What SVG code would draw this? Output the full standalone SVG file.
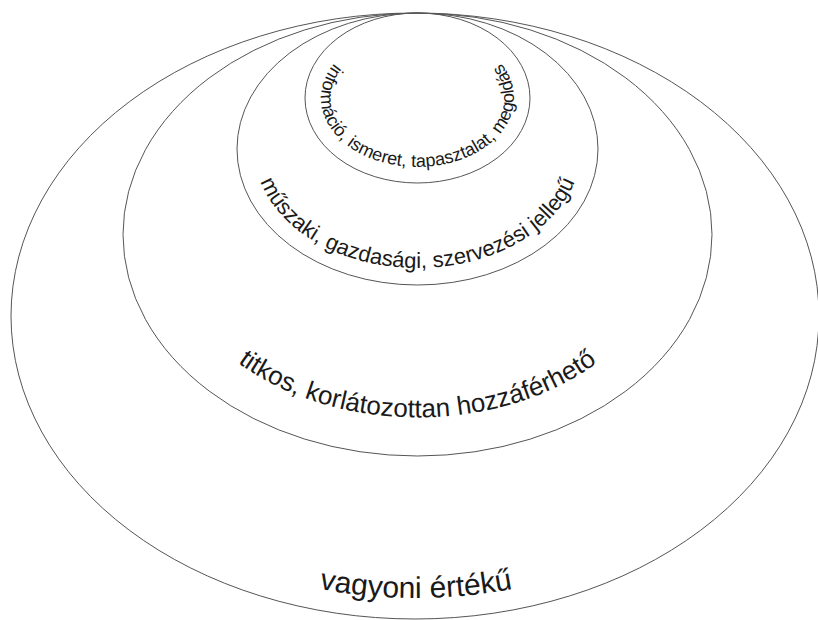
<svg xmlns="http://www.w3.org/2000/svg" xmlns:xlink="http://www.w3.org/1999/xlink" width="818" height="620" viewBox="0 0 818 620">
<style>
.ring{fill:none;stroke:#555;stroke-width:1}
.lbl{font-family:"Liberation Sans",Arial,sans-serif;fill:#1a1a1a}
</style>
<defs>
<path id="p1" d="M417.5,29 A96.5,69 0 0 0 417.5,167 A96.5,69 0 0 0 417.5,29"/>
<path id="p2" d="M417.5,30 A163.5,119 0 0 0 417.5,268 A163.5,119 0 0 0 417.5,30"/>
<path id="p3" d="M417.5,51.4 A252,183 0 0 0 417.5,417.4 A252,183 0 0 0 417.5,51.4"/>
<path id="p4" d="M416,34 A382,282 0 0 0 416,598 A382,282 0 0 0 416,34"/>
</defs>
<rect width="818" height="620" fill="#fff"/>
<g id="outer">
<ellipse class="ring" cx="415" cy="316" rx="404" ry="303"/>
<text class="lbl" font-size="30"><textPath href="#p4" xlink:href="#p4" startOffset="50%" text-anchor="middle">vagyoni értékű</textPath></text>
</g>
<g id="secret">
<ellipse class="ring" cx="417.5" cy="234.5" rx="294.5" ry="221.5"/>
<text class="lbl" font-size="26"><textPath href="#p3" xlink:href="#p3" startOffset="50%" text-anchor="middle">titkos, korlátozottan hozzáférhető</textPath></text>
</g>
<g id="technical">
<ellipse class="ring" cx="417.5" cy="149" rx="180.5" ry="136"/>
<text class="lbl" font-size="22"><textPath href="#p2" xlink:href="#p2" startOffset="50%" text-anchor="middle">műszaki, gazdasági, szervezési jellegű</textPath></text>
</g>
<g id="information">
<ellipse class="ring" cx="417.5" cy="98" rx="112.5" ry="85"/>
<text class="lbl" font-size="18"><textPath href="#p1" xlink:href="#p1" startOffset="50%" text-anchor="middle">információ, ismeret, tapasztalat, megoldás</textPath></text>
</g>
</svg>
